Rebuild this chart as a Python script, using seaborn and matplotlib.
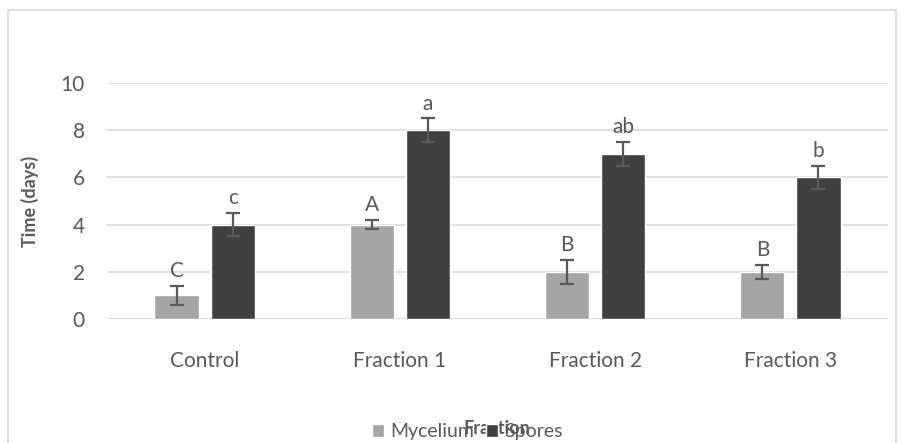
import matplotlib
matplotlib.use("Agg")
import matplotlib.pyplot as plt
from matplotlib.patches import Rectangle
import seaborn as sns
import pandas as pd

# data
fractions = ['Control', 'Fraction 1', 'Fraction 2', 'Fraction 3']
mycelium = [1, 4, 2, 2]
mycelium_err = [0.4, 0.2, 0.5, 0.3]
mycelium_letters = ['C', 'A', 'B', 'B']
spores = [4, 8, 7, 6]
spores_err = [0.5, 0.5, 0.5, 0.5]
spores_letters = ['c', 'a', 'ab', 'b']

df = pd.DataFrame({
    'Fraction': fractions * 2,
    'Time': mycelium + spores,
    'Type': ['Mycelium'] * 4 + ['Spores'] * 4,
})

sns.set_style('white')
plt.rcParams['font.family'] = ['Lato', 'DejaVu Sans']
text_col = '#595959'
fs = 15

fig = plt.figure(figsize=(9.03, 4.43), dpi=100)
ax = fig.add_axes([107 / 903, 124 / 443, 781 / 903, 236 / 443])

# light chart border
fig.patches.append(Rectangle((8 / 903, -0.05), 888 / 903, 1 - 10 / 443 + 0.05,
                             transform=fig.transFigure, fill=False,
                             edgecolor='#d9d9d9', linewidth=1.2))

sns.barplot(data=df, x='Fraction', y='Time', hue='Type', order=fractions,
            palette=['#a5a5a5', '#404040'], width=0.574, gap=0.21,
            errorbar=None, ax=ax, zorder=3)

# error bars and letters on top of each bar
errs = {'Mycelium': (mycelium_err, mycelium_letters), 'Spores': (spores_err, spores_letters)}
for container, name in zip(ax.containers, ['Mycelium', 'Spores']):
    err, letters = errs[name]
    for bar, e, lab in zip(container, err, letters):
        cx = bar.get_x() + bar.get_width() / 2
        h = bar.get_height()
        ax.errorbar(cx, h, yerr=e, color='#595959', capsize=5, elinewidth=1.6,
                    capthick=1.6, zorder=4)
        ax.text(cx, h + e + 0.2, lab, ha='center', va='bottom',
                fontsize=fs, color=text_col)

ax.set_ylim(0, 10)
ax.set_xlim(-0.5, 3.5)
ax.set_yticks([0, 2, 4, 6, 8, 10])
ax.yaxis.grid(True, color='#d9d9d9', linewidth=1.2, zorder=0)
ax.set_axisbelow(True)
for s in ['top', 'right', 'left', 'bottom']:
    ax.spines[s].set_visible(False)
ax.axhline(0, color='#d9d9d9', linewidth=1.2, zorder=1)
ax.tick_params(axis='both', length=0, labelsize=fs, labelcolor=text_col)
ax.tick_params(axis='x', pad=23)
ax.tick_params(axis='y', pad=16)

ax.set_xlabel('')
ax.set_ylabel('')
fig.text(30 / 903, 1 - 201 / 443, 'Time (days)', rotation=90, ha='center', va='center',
         fontsize=13, fontweight='bold', color=text_col)
fig.text(497 / 903, 1 - 429 / 443, 'Fraction', ha='center', va='center',
         fontsize=13, fontweight='bold', color=text_col)

handles, labels = ax.get_legend_handles_labels()
ax.legend_.remove()
fig.legend(handles, labels, loc='center', bbox_to_anchor=(467 / 903, 1 - 432 / 443),
           ncol=2, frameon=False, fontsize=14, handlelength=0.65, handleheight=0.65,
           handletextpad=0.3, columnspacing=0.6, labelcolor=text_col,
           borderpad=0, borderaxespad=0)

fig.savefig('out.png', dpi=100)
